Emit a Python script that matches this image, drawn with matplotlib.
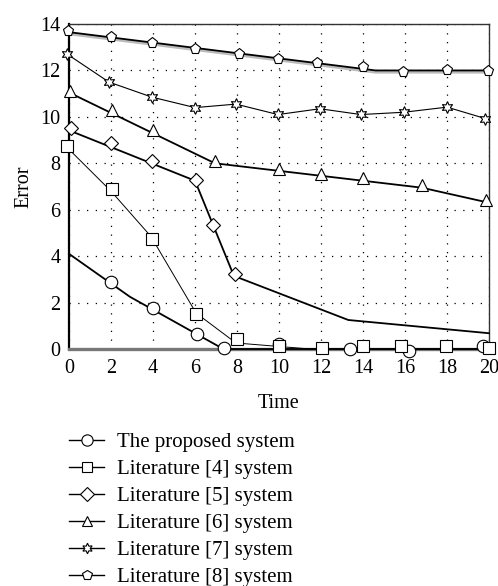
import matplotlib.pyplot as plt

plt.rcParams['font.family'] = ['Liberation Serif', 'DejaVu Serif']

# series: line vertices and marker points are kept separately
names = ['The proposed system', 'Literature [4] system', 'Literature [5] system',
         'Literature [6] system', 'Literature [7] system', 'Literature [8] system']

proposed_line_t = [0, 2.9, 7.35, 20]
proposed_line_y = [4.1, 2.25, 0.0, 0.0]
proposed_mark_t = [2.0, 4.0, 6.1, 7.4, 10.0, 13.4, 16.2, 19.7]
proposed_mark_y = [2.87, 1.75, 0.65, 0.03, 0.2, 0.0, -0.07, 0.14]

lit4_line_t = [0, 2.0, 3.9, 6.05, 7.95, 11.5, 20]
lit4_line_y = [8.6, 6.8, 4.85, 1.55, 0.26, 0.0, 0.0]
lit4_mark_t = [-0.1, 2.05, 3.95, 6.05, 8.0, 10.0, 12.05, 14.0, 15.8, 17.95, 20.0]
lit4_mark_y = [8.75, 6.88, 4.75, 1.52, 0.45, 0.12, 0.06, 0.13, 0.14, 0.14, 0.06]

lit5_line_t = [0, 6.0, 7.85, 13.3, 20]
lit5_line_y = [9.42, 7.25, 3.15, 1.25, 0.68]
lit5_mark_t = [0.1, 2.0, 3.95, 6.05, 6.85, 7.9]
lit5_mark_y = [9.52, 8.86, 8.12, 7.28, 5.34, 3.22]

lit6_line_t = [0, 6.95, 16.8, 20]
lit6_line_y = [11.05, 8.0, 6.95, 6.3]
lit6_mark_t = [0.05, 2.05, 4.0, 6.95, 10.0, 12.0, 14.0, 16.8, 19.85]
lit6_mark_y = [11.1, 10.3, 9.45, 8.1, 7.74, 7.55, 7.35, 7.05, 6.42]

lit7_line_t = [0, 1.9, 3.95, 6.0, 7.95, 9.95, 11.95, 13.9, 15.95, 18.0, 20]
lit7_line_y = [12.65, 11.5, 10.85, 10.4, 10.55, 10.1, 10.35, 10.1, 10.2, 10.42, 9.88]
lit7_mark_t = [-0.1, 1.9, 3.95, 6.0, 7.95, 9.95, 11.95, 13.9, 15.95, 18.0, 19.8]
lit7_mark_y = [12.7, 11.5, 10.85, 10.4, 10.55, 10.12, 10.35, 10.12, 10.2, 10.42, 9.92]

lit8_line_t = [0, 14.6, 20]
lit8_line_y = [13.65, 12.0, 12.0]
lit8_mark_t = [-0.05, 2.0, 3.95, 6.0, 8.1, 9.95, 11.8, 14.0, 15.9, 18.0, 19.95]
lit8_mark_y = [13.68, 13.45, 13.18, 12.92, 12.72, 12.48, 12.3, 12.17, 11.95, 12.01, 11.98]

x_ticks = list(range(0, 21, 2))
y_ticks = list(range(0, 15, 2))

series = [
    (proposed_line_t, proposed_line_y, proposed_mark_t, proposed_mark_y, 'o', 9, 1.3),
    (lit4_line_t, lit4_line_y, lit4_mark_t, lit4_mark_y, 's', 8, 0.7),
    (lit5_line_t, lit5_line_y, lit5_mark_t, lit5_mark_y, 'D', 7.5, 1.3),
    (lit6_line_t, lit6_line_y, lit6_mark_t, lit6_mark_y, '^', 8, 1.3),
    (lit7_line_t, lit7_line_y, lit7_mark_t, lit7_mark_y, (6, 1, 0), 8.5, 0.8),
    (lit8_line_t, lit8_line_y, lit8_mark_t, lit8_mark_y, 'p', 8, 1.3),
]

FS = 14.5

fig = plt.figure(figsize=(4.98, 5.86), dpi=100)
ax = fig.add_axes([0.1386, 0.4044, 0.8434, 0.5546])

# soft grey shadow under the top curve
ax.plot(lit8_line_t, [v - 0.07 for v in lit8_line_y], color='#bbbbbb', lw=2.2, zorder=2)

handles = []
for (lt, ly, mt, my, mk, ms, lw), name in zip(series, names):
    ax.plot(lt, ly, color='black', lw=lw, zorder=3, clip_on=False)
    ax.plot(mt, my, ls='none', marker=mk, ms=ms, mfc='white', mec='black',
            mew=0.8, zorder=4, clip_on=False)
    h, = ax.plot([], [], color='black', lw=1.0, marker=mk, ms=ms * 0.9,
                 mfc='white', mec='black', mew=0.8, label=name)
    handles.append(h)

ax.set_xlim(0, 20)
ax.set_ylim(0, 14)
ax.set_xticks(x_ticks)
ax.set_yticks(y_ticks)
ax.tick_params(length=0, labelsize=FS)
ax.tick_params(axis='x', pad=7)
ax.tick_params(axis='y', pad=6)
ax.grid(True, color='black', ls=(0, (1, 6)), lw=0.9)

ax.spines['left'].set_linewidth(1.6)
ax.spines['bottom'].set_linewidth(2.4)
ax.spines['bottom'].set_color('#777777')
ax.spines['top'].set_linewidth(1.0)
ax.spines['top'].set_color('#333333')
ax.spines['right'].set_linewidth(1.0)
ax.spines['right'].set_color('#333333')

ax.set_xlabel('Time', fontsize=FS, labelpad=12)
ax.set_ylabel('Error', fontsize=FS, labelpad=5)

fig.legend(handles=handles, loc='upper left', bbox_to_anchor=(0.1386, 0.262),
           frameon=False, fontsize=15, handlelength=1.7, handletextpad=0.62,
           labelspacing=0.36, borderpad=0, borderaxespad=0)

fig.savefig('out.png', dpi=100)
